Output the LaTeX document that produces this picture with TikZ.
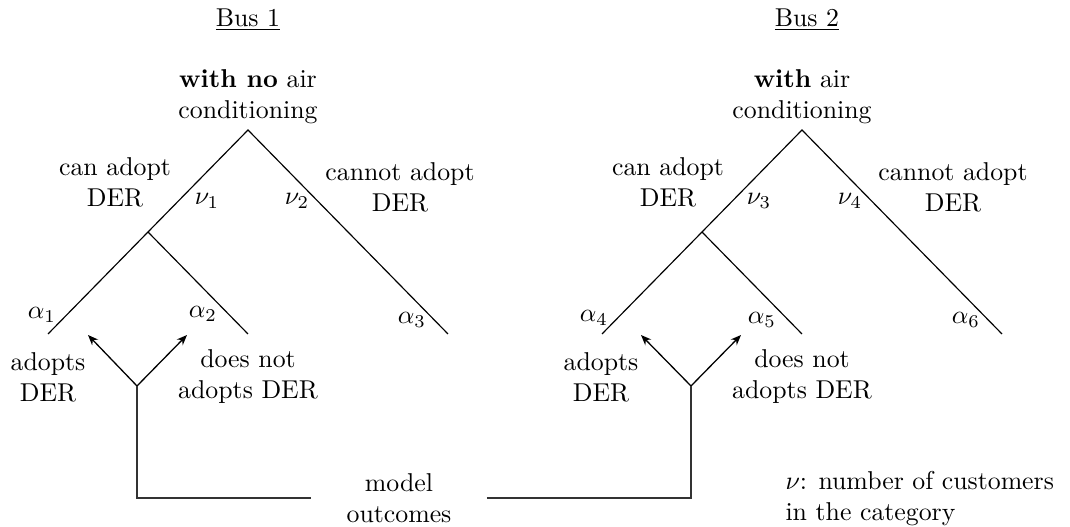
\documentclass[tikz,border=0pt]{standalone}
\usetikzlibrary{arrows.meta}
\begin{document}
\begin{tikzpicture}[x=0.3876pt,y=-0.3876pt,
  lbl/.style={align=center,inner sep=0pt},
  br/.style={line width=0.45pt},
  arr/.style={-{Stealth[length=4pt,width=3.2pt]},line width=0.5pt},
  conn/.style={line width=0.55pt,draw=black!80}]
\useasboundingbox (0,0) rectangle (1070,527);
% ---------- Bus 1 ----------
\node[lbl] (bus1) at (248,20) {\underline{Bus 1}};
\node[lbl] (head1) at (248,97) {\textbf{with no} air\\conditioning};
\coordinate (A1) at (248,130);
\coordinate (M1) at (148,232);
\coordinate (L1) at (48,334);
\coordinate (S1) at (248,334);
\coordinate (R1) at (448,334);
\draw[br] (L1) -- (A1) -- (R1);
\draw[br] (M1) -- (S1);
\node[lbl] (can1) at (115,182) {can adopt\\DER};
\node[lbl] (cannot1) at (400,187) {cannot adopt\\DER};
\node[lbl] (nu1) at (207,201) {$\nu_1$};
\node[lbl] (nu2) at (297,201) {$\nu_2$};
\node[lbl] (al1) at (42,315) {$\alpha_1$};
\node[lbl] (al2) at (203,314) {$\alpha_2$};
\node[lbl] (al3) at (412,320) {$\alpha_3$};
\node[lbl] (ad1) at (48,377) {adopts\\DER};
\node[lbl] (dn1) at (248,377) {does not\\adopts DER};
\coordinate (B1) at (137,386);
\coordinate (T1a) at (88,335);
\coordinate (T1b) at (187,335);
\draw[arr] (B1) -- (T1a);
\draw[arr] (B1) -- (T1b);
% ---------- Bus 2 ----------
\node[lbl] (bus2) at (807,20) {\underline{Bus 2}};
\node[lbl] (head2) at (802,97) {\textbf{with} air\\conditioning};
\coordinate (A2) at (802,130);
\coordinate (M2) at (702,232);
\coordinate (L2) at (602,334);
\coordinate (S2) at (802,334);
\coordinate (R2) at (1002,334);
\draw[br] (L2) -- (A2) -- (R2);
\draw[br] (M2) -- (S2);
\node[lbl] (can2) at (668,182) {can adopt\\DER};
\node[lbl] (cannot2) at (953,187) {cannot adopt\\DER};
\node[lbl] (nu3) at (759,201) {$\nu_3$};
\node[lbl] (nu4) at (850,201) {$\nu_4$};
\node[lbl] (al4) at (594,318) {$\alpha_4$};
\node[lbl] (al5) at (762,320) {$\alpha_5$};
\node[lbl] (al6) at (966,320) {$\alpha_6$};
\node[lbl] (ad2) at (601,377) {adopts\\DER};
\node[lbl] (dn2) at (802,377) {does not\\adopts DER};
\coordinate (B2) at (691,386);
\coordinate (T2a) at (641,335);
\coordinate (T2b) at (741,335);
\draw[arr] (B2) -- (T2a);
\draw[arr] (B2) -- (T2b);
% ---------- model outcomes ----------
\node[align=center,inner ysep=0pt,inner xsep=13.6pt] (mo) at (399,498) {model\\outcomes};
\draw[conn] (B1) |- (mo.west);
\draw[conn] (mo.east) -| (B2);
% ---------- legend ----------
\node[align=left,inner sep=0pt,anchor=west] (leg) at (785,499) {$\nu$: number of customers\\in the category};
\end{tikzpicture}
\end{document}
